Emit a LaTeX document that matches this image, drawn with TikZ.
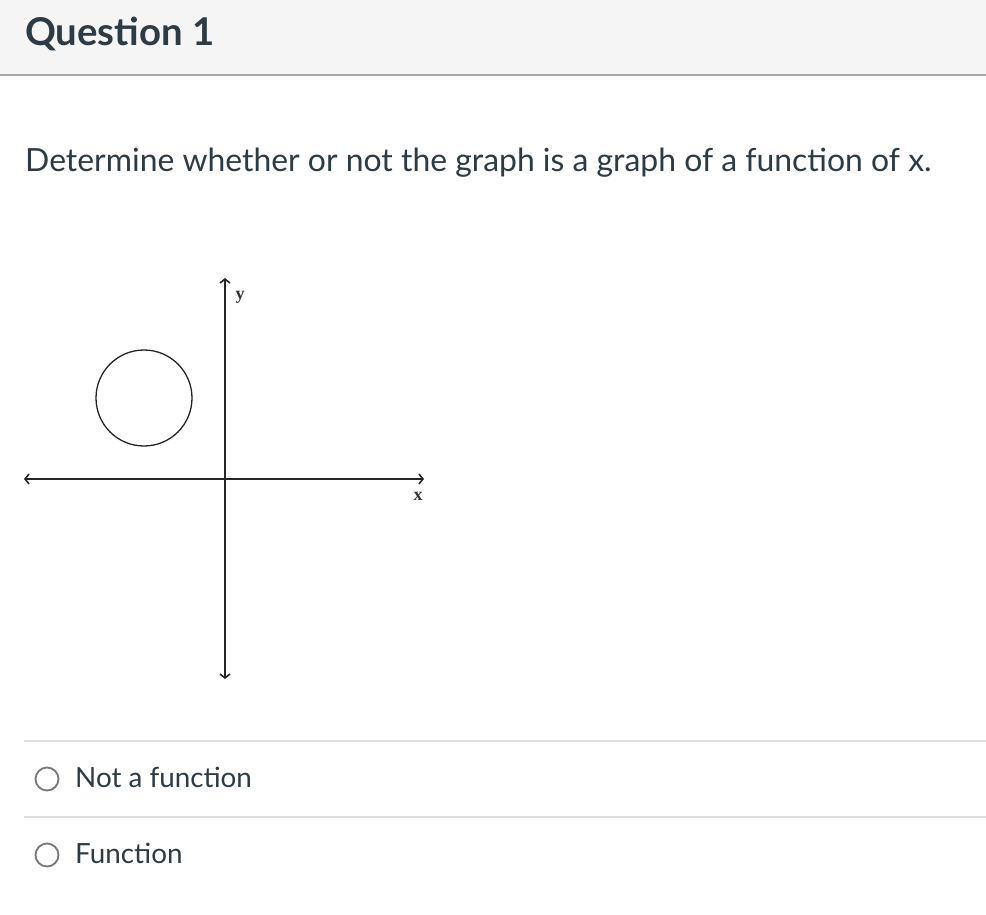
\documentclass[tikz,border=0pt]{standalone}
\usepackage{fontspec}
\setmainfont{Lato}
\newfontfamily\lblfont{Liberation Serif}
\usetikzlibrary{arrows.meta}
\definecolor{txt}{HTML}{2D3B45}
\definecolor{hdrbg}{HTML}{F5F5F5}
\definecolor{hdrline}{HTML}{A5A5A5}
\definecolor{sepline}{HTML}{DDDDDD}
\definecolor{radio}{HTML}{777777}
\tikzset{
  axis/.style={line width=1.6pt, black!85, {Straight Barb[length=4pt,width=10pt]}-{Straight Barb[length=4pt,width=10pt]}},
  maintext/.style={anchor=base west, inner sep=0pt, text=txt},
  lbl/.style={anchor=center, inner sep=0pt, font=\lblfont\bfseries\fontsize{18}{18}\selectfont, text=black!80},
  radiobtn/.style={circle, draw=radio, line width=1.8pt, minimum size=23pt, inner sep=0pt},
  sep/.style={draw=sepline, line width=1.5pt}
}
\begin{document}
\begin{tikzpicture}[x=1pt,y=-1pt]
\useasboundingbox (0,0) rectangle (986,914);
\fill[white] (0,0) rectangle (986,914);
% header
\fill[hdrbg] (0,0) rectangle (986,74);
\draw[hdrline, line width=2pt] (0,74.5) -- (986,74.5);
\node[maintext, font=\bfseries\fontsize{38.3}{44}\selectfont] (title) at (25,45) {Question 1};
% question text
\node[maintext, font=\fontsize{31.9}{38}\selectfont] (question) at (25,171) {Determine whether or not the graph is a graph of a function of x.};
% graph
\coordinate (xl) at (24,479);
\coordinate (xr) at (424,479);
\coordinate (yt) at (225,278);
\coordinate (yb) at (225,679);
\draw[axis] (xl) -- (xr);
\draw[axis] (yb) -- (yt);
\node[circle, draw=black!85, line width=1.3pt, minimum size=96pt, inner sep=0pt] (circ) at (144,398) {};
\node[lbl] (ylbl) at (240,297) {y};
\node[lbl] (xlbl) at (418,496) {x};
% options
\coordinate (s1l) at (24,741);
\coordinate (s1r) at (986,741);
\coordinate (s2l) at (24,817);
\coordinate (s2r) at (986,817);
\draw[sep] (s1l) -- (s1r);
\draw[sep] (s2l) -- (s2r);
\node[radiobtn] (r1) at (47,779) {};
\node[radiobtn] (r2) at (47,855) {};
\node[maintext, font=\fontsize{27.8}{33}\selectfont] (opt1) at (75,787) {Not a function};
\node[maintext, font=\fontsize{27.8}{33}\selectfont] (opt2) at (75,863) {Function};
\end{tikzpicture}
\end{document}
